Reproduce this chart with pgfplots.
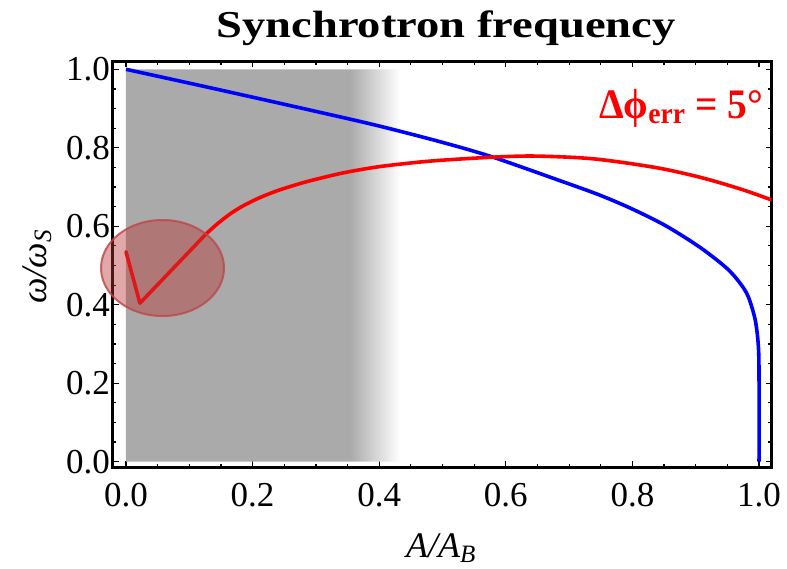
\documentclass[border=0pt]{standalone}
\usepackage{pgfplots}
\pgfplotsset{compat=1.18}
\usepackage{fontspec}
\setmainfont{Liberation Serif}
\usepackage{graphicx}
\definecolor{shadegray}{RGB}{170,170,170}
\definecolor{ellfill}{RGB}{184,55,55}
\definecolor{elldraw}{RGB}{190,70,70}
\definecolor{pblue}{RGB}{0,0,255}
\definecolor{pred}{RGB}{255,0,0}
\newcommand{\lsub}[1]{\raisebox{-4.5bp}{\fontsize{25bp}{25bp}\selectfont #1}}

\pgfplotstableread{
x y
0.000 1.000
0.133 0.953
0.291 0.896
0.396 0.857
0.496 0.8155
0.578 0.777
0.691 0.713
0.749 0.679
0.801 0.643
0.854 0.600
0.907 0.546
0.949 0.493
0.970 0.455
0.983 0.4205
0.994 0.361
0.999 0.293
1.000 0.208
1.000 0.000
}\bluedata

\pgfplotstableread{
x y
0.1275 0.582
0.145 0.607
0.165 0.632
0.185 0.652
0.210 0.672
0.238 0.690
0.265 0.704
0.291 0.716
0.343 0.736
0.396 0.751
0.448 0.761
0.496 0.768
0.578 0.776
0.638 0.779
0.700 0.776
0.7435 0.771
0.796 0.760
0.849 0.746
0.9015 0.727
0.940 0.710
0.980 0.690
1.020 0.667
}\reddata

\begin{document}
\begin{tikzpicture}
\begin{axis}[
  at={(0,0)}, anchor=south west,
  scale only axis, width=659bp, height=406bp,
  xmin=-0.021, xmax=1.020, ymin=-0.0148, ymax=1.0199,
  xtick={0,0.2,0.4,0.6,0.8,1.0}, ytick={0,0.2,0.4,0.6,0.8,1.0},
  minor tick num=3,
  tick align=inside,
  major tick length=6bp, minor tick length=3.5bp,
  every tick/.style={black, line width=1.2bp},
  axis line style={line width=2.6bp},
  /pgf/number format/assume math mode=true,
  /pgf/number format/.cd, fixed, fixed zerofill, precision=1, /pgfplots/.cd,
  tick label style={font=\fontsize{35bp}{35bp}\selectfont},
  xticklabel style={anchor=base, inner sep=0pt, yshift=-39.2bp},
  yticklabel style={anchor=east, inner sep=0pt, xshift=-2.7bp},
  every axis x label/.style={at={(axis description cs:0.4977,-0.222)}, anchor=base, inner sep=0pt, font=\fontsize{36bp}{36bp}\selectfont\itshape},
  every axis y label/.style={at={(axis description cs:-0.1002,0.4938)}, rotate=90, anchor=base, inner sep=0pt, font=\fontsize{36bp}{36bp}\selectfont\itshape},
  every axis title/.style={at={(axis description cs:0.5058,1.0600)}, anchor=base, inner sep=0pt},
  xlabel={A/A\lsub{B}},
  ylabel={ω/ω\lsub{S}},
  title={\resizebox{459bp}{\height}{\fontsize{38bp}{40bp}\selectfont\bfseries Synchrotron frequency}},
]
\addplot[draw=none, fill=shadegray] coordinates {(0,0) (0,1) (0.354,1) (0.354,0)} \closedcycle;
\addplot[draw=none, left color=shadegray, right color=white] coordinates {(0.354,0) (0.354,1) (0.433,1) (0.433,0)} \closedcycle;

\addplot[pblue, line width=3.6bp, smooth, tension=0.5] table {\bluedata};
\addplot[pred, line width=3.6bp, line cap=round, line join=round] coordinates {(0.0,0.535) (0.022,0.404) (0.1275,0.582)};
\addplot[pred, line width=3.6bp, line cap=round, smooth, tension=0.5] table {\reddata};

\coordinate (ellc) at (axis cs:0.0577,0.4936);
\node[anchor=base east, inner sep=0pt, text=pred] at (axis description cs:0.9873,0.8608)
  {\resizebox{164bp}{\height}{\fontsize{42bp}{42bp}\selectfont\bfseries Δϕ\textsubscript{err} = 5°}};
\end{axis}
\draw[fill=ellfill, fill opacity=0.435, draw=elldraw, draw opacity=0.8, line width=2bp]
  (ellc) ellipse [x radius=61.5bp, y radius=48bp];
\pgfresetboundingbox
\useasboundingbox (-112.7bp,-101.5bp) rectangle (674.3bp,467.5bp);
\end{tikzpicture}
\end{document}
